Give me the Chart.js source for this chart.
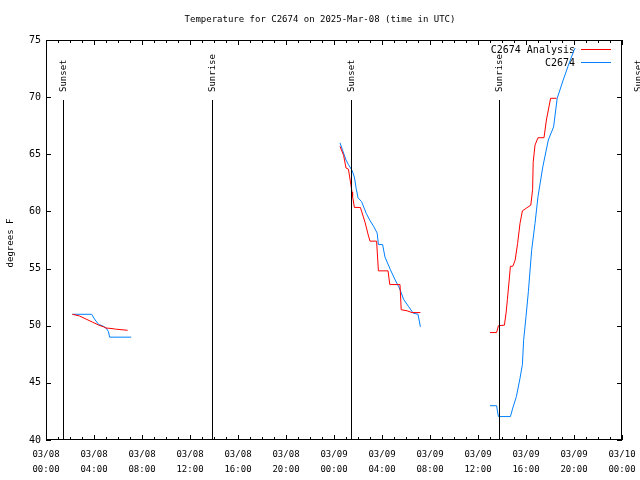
<!DOCTYPE html>
<html>
<head>
<meta charset="utf-8">
<script src="https://cdn.jsdelivr.net/npm/chart.js@4.4.1/dist/chart.umd.min.js"></script>
<style>
  html, body { margin: 0; padding: 0; background: #fff; }
  canvas { display: block; }
</style>
</head>
<body>
<canvas id="tempChart" width="640" height="480"></canvas>
<script>
/* Temperature for C2674, hours counted from 03/08 00:00 UTC */

const TITLE = 'Temperature for C2674 on 2025-Mar-08 (time in UTC)';
const dayLabels = ['03/08', '03/09', '03/10'];

// null temp = gap between observation runs
const anlHours = [2.2, 2.8, 3.5, 3.9, 4.4, 4.8, 5.0, 5.5, 5.8, 6.8,
    15,
    24.5, 24.8, 25.0, 25.2, 25.4, 25.5, 25.55, 25.7, 26.2, 26.6, 26.85, 27.0, 27.55, 27.7, 28.5, 28.65, 29.5, 29.6, 30.1, 30.5, 31.2,
    34,
    37.0, 37.55, 37.7, 38.2, 38.35, 38.45, 38.6, 38.7, 38.9, 39.1, 39.3, 39.5, 39.7, 40.05, 40.4, 40.55, 40.6, 40.75, 41.0, 41.5, 41.7, 42.05, 42.55];
const anlTemps = [51.0, 50.85, 50.5, 50.3, 50.05, 49.9, 49.8, 49.75, 49.7, 49.6,
    null,
    65.7, 64.9, 63.8, 63.7, 62.4, 61.7, 61.3, 60.35, 60.35, 59.0, 57.95, 57.4, 57.4, 54.8, 54.8, 53.6, 53.6, 51.4, 51.3, 51.15, 51.15,
    null,
    49.4, 49.4, 50.0, 50.05, 51.2, 52.3, 54.0, 55.2, 55.2, 55.75, 57.2, 58.95, 60.05, 60.3, 60.55, 61.9, 64.3, 65.8, 66.45, 66.45, 68.0, 69.9, 69.9];

const obsHours = [2.2, 3.8, 4.1, 4.4, 4.7, 5.0, 5.2, 5.3, 7.1,
    15,
    24.5, 24.7, 25.0, 25.2, 25.5, 25.7, 25.85, 26.0, 26.3, 26.7, 27.0, 27.3, 27.6, 27.7, 28.05, 28.25, 28.7, 29.1, 29.4, 29.6, 29.8, 30.2, 30.6, 31.0, 31.2,
    34,
    37.0, 37.55, 37.7, 38.7, 38.9, 39.2, 39.5, 39.7, 39.8, 40.0, 40.2, 40.47, 40.75, 41.0, 41.4, 41.86, 42.3, 42.6, 43.1, 43.5, 44.0, 44.1];
const obsTemps = [51.0, 51.0, 50.5, 50.1, 50.0, 49.8, 49.5, 49.0, 49.0,
    null,
    66.0, 65.4, 64.5, 64.1, 63.6, 63.0, 62.0, 61.2, 60.85, 59.8, 59.2, 58.7, 58.1, 57.1, 57.1, 56.0, 54.9, 54.0, 53.4, 52.9, 52.3, 51.7, 51.1, 51.0, 49.9,
    null,
    43.0, 43.0, 42.05, 42.05, 42.8, 43.8, 45.4, 46.6, 48.7, 50.8, 53.0, 56.6, 58.95, 61.3, 63.9, 66.25, 67.4, 69.9, 71.5, 72.7, 74.1, 74.3];

const sunHours = [1.42, 13.83, 25.42, 37.75, 49.33];
const sunLabels = ['Sunset', 'Sunrise', 'Sunset', 'Sunrise', 'Sunset'];

const MONO = '"DejaVu Sans Mono", "Liberation Mono", monospace';

function toPoints(hours, temps) {
    return hours.map((h, i) => ({ x: h, y: temps[i] }));
}

const decorations = {
    id: 'decorations',
    beforeDraw(chart) {
        const ctx = chart.ctx;
        ctx.save();
        ctx.fillStyle = '#fff';
        ctx.fillRect(0, 0, chart.width, chart.height);
        ctx.restore();
    },
    beforeDatasetsDraw(chart) {
        // legend: right-aligned text, sample line after it
        const ctx = chart.ctx;
        ctx.save();
        ctx.font = '10px ' + MONO;
        ctx.textAlign = 'right';
        ctx.textBaseline = 'middle';
        chart.data.datasets.forEach((ds, i) => {
            const y = 50 + i * 13;
            ctx.fillStyle = '#000';
            ctx.fillText(ds.label, 575, y);
            ctx.strokeStyle = ds.borderColor;
            ctx.lineWidth = 1;
            ctx.beginPath();
            ctx.moveTo(581, y - 0.5);
            ctx.lineTo(611, y - 0.5);
            ctx.stroke();
        });
        ctx.restore();
    },
    afterDatasetsDraw(chart) {
        const ctx = chart.ctx;
        const area = chart.chartArea;
        const xs = chart.scales.x;
        const ys = chart.scales.y;
        ctx.save();

        // sunrise / sunset markers
        ctx.strokeStyle = '#000';
        ctx.fillStyle = '#000';
        ctx.lineWidth = 1;
        ctx.font = '9px ' + MONO;
        sunHours.forEach((h, i) => {
            const px = Math.round(xs.getPixelForValue(h)) + 0.5;
            if (px <= area.right) {
                ctx.beginPath();
                ctx.moveTo(px, 100);
                ctx.lineTo(px, area.bottom);
                ctx.stroke();
            }
            ctx.save();
            ctx.translate(px, 92);
            ctx.rotate(-Math.PI / 2);
            ctx.textAlign = 'left';
            ctx.textBaseline = 'middle';
            ctx.fillText(sunLabels[i], 0, 0);
            ctx.restore();
        });

        // frame
        ctx.strokeRect(area.left + 0.5, area.top + 0.5, area.right - area.left - 1, area.bottom - area.top - 1);

        // inward ticks
        ctx.beginPath();
        for (let h = xs.min; h <= xs.max; h++) {
            const px = Math.round(xs.getPixelForValue(h)) + 0.5;
            const len = h % 4 === 0 ? 5 : 3;
            ctx.moveTo(px, area.bottom);
            ctx.lineTo(px, area.bottom - len);
            ctx.moveTo(px, area.top);
            ctx.lineTo(px, area.top + len);
        }
        for (let v = ys.min; v <= ys.max; v += 5) {
            const py = Math.round(ys.getPixelForValue(v)) + 0.5;
            ctx.moveTo(area.left, py);
            ctx.lineTo(area.left + 5, py);
            ctx.moveTo(area.right, py);
            ctx.lineTo(area.right - 5, py);
        }
        ctx.stroke();

        // title
        ctx.font = '9px ' + MONO;
        ctx.textAlign = 'center';
        ctx.textBaseline = 'middle';
        ctx.fillText(TITLE, 320, 20);

        // y axis title
        ctx.translate(11, 243);
        ctx.rotate(-Math.PI / 2);
        ctx.fillText('degrees F', 0, 0);
        ctx.restore();
    }
};

new Chart(document.getElementById('tempChart'), {
    type: 'line',
    data: {
        datasets: [{
            label: 'C2674 Analysis',
            data: toPoints(anlHours, anlTemps),
            borderColor: '#ff0000',
            borderWidth: 1,
            pointRadius: 0,
            tension: 0,
            spanGaps: false
        }, {
            label: 'C2674',
            data: toPoints(obsHours, obsTemps),
            borderColor: '#0080ff',
            borderWidth: 1,
            pointRadius: 0,
            tension: 0,
            spanGaps: false
        }]
    },
    options: {
        responsive: false,
        devicePixelRatio: 1,
        animation: false,
        layout: { padding: { top: 40, right: 18, left: 0, bottom: 0 } },
        plugins: {
            legend: { display: false },
            tooltip: { enabled: false }
        },
        scales: {
            x: {
                type: 'linear',
                min: 0,
                max: 48,
                afterFit: s => { s.height = 40; s.paddingLeft = 0; s.paddingRight = 0; },
                grid: { display: false, drawTicks: false },
                border: { display: false },
                ticks: {
                    stepSize: 4,
                    padding: 7,
                    maxRotation: 0,
                    autoSkip: false,
                    color: '#000',
                    font: { family: MONO, size: 9, lineHeight: '15px' },
                    callback: v => [dayLabels[Math.floor(v / 24)], String(v % 24).padStart(2, '0') + ':00']
                }
            },
            y: {
                min: 40,
                max: 75,
                afterFit: s => { s.width = 46; s.paddingTop = 0; s.paddingBottom = 0; },
                grid: { display: false, drawTicks: false },
                border: { display: false },
                ticks: {
                    stepSize: 5,
                    padding: 5,
                    color: '#000',
                    font: { family: MONO, size: 10 }
                }
            }
        }
    },
    plugins: [decorations]
});
</script>
</body>
</html>
